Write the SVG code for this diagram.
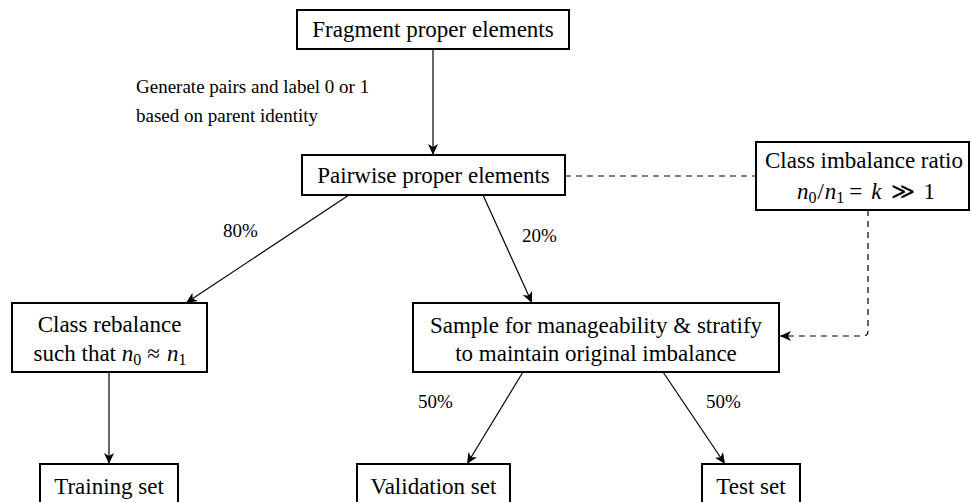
<svg xmlns="http://www.w3.org/2000/svg" width="971" height="502" viewBox="0 0 971 502">
<style>
.box{fill:#fff;stroke:#000;stroke-width:2}
.t{font-family:'Liberation Serif','Times New Roman','DejaVu Serif',serif;font-size:23px;fill:#000;text-anchor:middle}
.l{font-family:'Liberation Serif','Times New Roman','DejaVu Serif',serif;font-size:19px;fill:#000}
.m{font-style:italic}
.c{fill:none;stroke:#000;stroke-width:1.2}
.d{fill:none;stroke:#000;stroke-width:1.2;stroke-dasharray:6,5}
</style>
<defs>
<marker id="ah" markerWidth="12" markerHeight="10" refX="11" refY="5" orient="auto" markerUnits="userSpaceOnUse">
<path d="M0,0 L11,5 L0,10 L3,5 Z" fill="#000"/>
</marker>
</defs>
<rect width="971" height="502" fill="#fff"/>
<g id="connectors">
<line class="c" x1="433" y1="49" x2="433" y2="155" marker-end="url(#ah)"/>
<line class="c" x1="349" y1="195" x2="186" y2="303" marker-end="url(#ah)"/>
<line class="c" x1="483" y1="195" x2="532" y2="303" marker-end="url(#ah)"/>
<line class="c" x1="109" y1="372" x2="109" y2="464" marker-end="url(#ah)"/>
<line class="c" x1="523" y1="372" x2="467" y2="464" marker-end="url(#ah)"/>
<line class="c" x1="663" y1="372" x2="725" y2="464" marker-end="url(#ah)"/>
<line class="d" x1="565" y1="176" x2="756" y2="176"/>
<path class="d" d="M868,210 L868,331 Q868,336 863,336 L780,336" marker-end="url(#ah)"/>
<text class="l" x="136" y="93">Generate pairs and label 0 or 1</text>
<text class="l" x="136" y="122">based on parent identity</text>
<text class="l" x="223" y="237">80%</text>
<text class="l" x="522" y="242">20%</text>
<text class="l" x="418" y="408">50%</text>
<text class="l" x="706" y="408">50%</text>
</g>
<g id="fragment">
<rect class="box" x="297" y="10" width="272" height="39"/>
<text class="t" x="433" y="37">Fragment proper elements</text>
</g>
<g id="pairwise">
<rect class="box" x="302" y="155" width="263" height="40"/>
<text class="t" x="433.5" y="183">Pairwise proper elements</text>
</g>
<g id="imbalance">
<rect class="box" x="756" y="142" width="213" height="68"/>
<text class="t" x="864" y="168">Class imbalance ratio</text>
<text class="t" x="866" y="199"><tspan class="m">n</tspan><tspan font-size="16" dy="4">0</tspan><tspan dy="-4" dx="1">/</tspan><tspan class="m" dx="1">n</tspan><tspan font-size="16" dy="4">1</tspan><tspan dy="-4" dx="5">=</tspan><tspan class="m" dx="9">k</tspan><tspan dx="9">≫</tspan><tspan dx="9">1</tspan></text>
</g>
<g id="rebalance">
<rect class="box" x="12" y="303" width="195" height="69"/>
<text class="t" x="109.5" y="332">Class rebalance</text>
<text class="t" x="110" y="361">such that <tspan class="m">n</tspan><tspan font-size="16" dy="4">0</tspan><tspan dy="-4" dx="6">≈</tspan><tspan class="m" dx="7">n</tspan><tspan font-size="16" dy="4">1</tspan></text>
</g>
<g id="sample">
<rect class="box" x="413" y="303" width="366" height="69"/>
<text class="t" x="596" y="333">Sample for manageability &amp; stratify</text>
<text class="t" x="596" y="361">to maintain original imbalance</text>
</g>
<g id="training">
<rect class="box" x="40" y="464" width="138" height="50"/>
<text class="t" x="109" y="494">Training set</text>
</g>
<g id="validation">
<rect class="box" x="357" y="464" width="153" height="50"/>
<text class="t" x="433.5" y="494">Validation set</text>
</g>
<g id="test">
<rect class="box" x="702" y="464" width="98" height="50"/>
<text class="t" x="751" y="494">Test set</text>
</g>
</svg>
